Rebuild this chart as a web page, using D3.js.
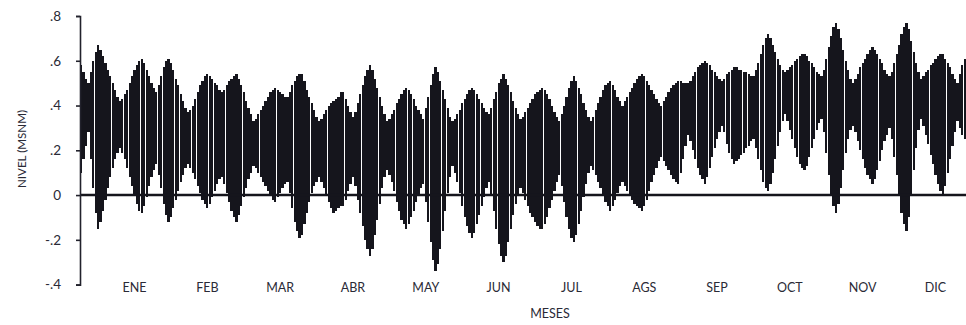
<!DOCTYPE html>
<html>
<head>
<meta charset="utf-8">
<script src="https://cdn.jsdelivr.net/npm/d3@7"></script>
<style>
  html, body { margin: 0; padding: 0; background: #fff; }
  svg { display: block; }
  text { font-family: "Lato", "Noto Sans", sans-serif; fill: #2a2a36; }
</style>
</head>
<body>
<svg id="chart" width="966" height="325"></svg>
<script>
// Month tick labels along the bottom
const months = ["ENE", "FEB", "MAR", "ABR", "MAY", "JUN", "JUL", "AGS", "SEP", "OCT", "NOV", "DIC"];

// Level axis ticks (m)
const levelTicks = [-0.4, -0.2, 0, 0.2, 0.4, 0.6, 0.8];

// Daily high water (m above mean sea level), day 0 .. 364
const dailyHigh = [
  .58,.55,.52,.50,.55,.60,.64,.67,.65,.62,.59,.56,.53,.50,.47,.44,.42,.43,.45,.47,
  .50,.53,.56,.58,.60,.61,.59,.56,.53,.50,.48,.46,.49,.53,.57,.60,.61,.59,.56,.52,
  .49,.45,.42,.39,.37,.38,.40,.43,.46,.49,.51,.53,.54,.53,.52,.50,.49,.47,.46,.47,
  .49,.51,.52,.53,.54,.52,.49,.46,.42,.39,.36,.33,.34,.36,.38,.40,.42,.44,.46,.47,
  .48,.47,.46,.45,.44,.44,.46,.49,.51,.53,.54,.54,.51,.47,.44,.41,.38,.35,.33,.34,
  .36,.38,.40,.41,.42,.43,.44,.46,.46,.43,.40,.37,.35,.37,.41,.45,.49,.53,.56,.58,
  .56,.52,.48,.44,.40,.36,.33,.34,.36,.38,.41,.43,.45,.47,.48,.47,.45,.43,.40,.38,
  .36,.34,.39,.44,.49,.54,.57,.55,.51,.47,.43,.39,.35,.33,.34,.36,.38,.41,.43,.45,
  .47,.48,.47,.45,.43,.41,.39,.37,.36,.39,.43,.46,.50,.52,.54,.52,.49,.46,.42,.39,
  .36,.34,.35,.37,.39,.41,.43,.45,.46,.47,.48,.47,.45,.43,.40,.37,.35,.33,.36,.40,
  .44,.48,.51,.53,.51,.48,.45,.41,.38,.35,.33,.35,.38,.41,.44,.47,.49,.50,.51,.49,
  .47,.44,.42,.40,.42,.44,.46,.48,.50,.52,.53,.54,.53,.51,.49,.47,.45,.43,.41,.40,
  .42,.44,.46,.48,.49,.50,.51,.51,.50,.50,.50,.51,.53,.55,.57,.58,.59,.60,.59,.58,
  .56,.55,.53,.52,.51,.52,.54,.55,.56,.57,.57,.56,.56,.55,.55,.54,.53,.53,.56,.59,
  .63,.67,.70,.72,.70,.67,.64,.61,.58,.56,.55,.56,.57,.58,.60,.61,.62,.63,.63,.62,
  .60,.59,.57,.55,.54,.53,.56,.61,.66,.71,.75,.77,.74,.70,.65,.60,.56,.52,.50,.52,
  .54,.57,.59,.61,.63,.65,.66,.65,.63,.61,.59,.56,.54,.53,.55,.59,.63,.67,.72,.75,
  .77,.74,.69,.64,.59,.55,.52,.53,.55,.56,.58,.59,.61,.62,.63,.63,.61,.59,.57,.54,
  .52,.50,.54,.58,.61
];

// Daily low water (m above mean sea level), day 0 .. 364
const dailyLow = [
  .10,.16,.22,.28,.16,.03,-.08,-.15,-.12,-.07,-.02,.03,.08,.12,.16,.19,.21,.19,.16,.12,
  .08,.04,.00,-.04,-.07,-.08,-.05,-.01,.04,.08,.11,.14,.09,.03,-.04,-.09,-.12,-.10,-.06,-.02,
  .02,.06,.09,.12,.14,.12,.10,.07,.04,.01,-.02,-.04,-.06,-.04,-.01,.02,.05,.07,.08,.05,
  .01,-.03,-.07,-.10,-.12,-.09,-.05,-.01,.03,.07,.10,.13,.12,.10,.08,.06,.04,.02,.00,-.02,
  -.03,-.01,.01,.03,.05,.06,.01,-.06,-.12,-.16,-.19,-.18,-.13,-.08,-.03,.01,.04,.06,.08,.06,
  .03,.00,-.03,-.06,-.08,-.07,-.06,-.05,-.05,-.02,.02,.05,.08,.04,-.02,-.08,-.14,-.20,-.24,-.27,
  -.24,-.18,-.11,-.04,.03,.08,.11,.09,.06,.02,-.03,-.07,-.11,-.13,-.15,-.13,-.10,-.07,-.03,.00,
  .03,.05,-.03,-.12,-.21,-.29,-.34,-.31,-.24,-.16,-.07,.01,.08,.13,.10,.06,.01,-.05,-.10,-.14,
  -.17,-.19,-.17,-.13,-.09,-.05,-.01,.03,.06,.00,-.07,-.15,-.22,-.27,-.30,-.27,-.21,-.15,-.09,-.04,
  .00,.03,.01,-.02,-.05,-.08,-.10,-.12,-.14,-.15,-.15,-.13,-.10,-.06,-.02,.02,.06,.09,.04,-.03,
  -.10,-.15,-.19,-.21,-.18,-.13,-.07,-.01,.05,.10,.13,.11,.09,.06,.03,.00,-.03,-.05,-.07,-.05,
  -.02,.01,.04,.06,.04,.02,.00,-.02,-.04,-.05,-.06,-.07,-.05,-.02,.02,.06,.09,.12,.15,.17,
  .15,.13,.11,.09,.07,.06,.05,.10,.16,.22,.27,.24,.20,.16,.12,.09,.07,.05,.08,.12,
  .17,.21,.25,.28,.31,.28,.23,.19,.16,.14,.15,.16,.18,.19,.21,.22,.24,.25,.21,.16,
  .11,.06,.03,.02,.05,.10,.16,.22,.28,.33,.36,.33,.29,.25,.21,.17,.14,.12,.11,.13,
  .17,.21,.25,.29,.32,.34,.28,.19,.09,.00,-.05,-.08,-.04,.03,.11,.19,.25,.29,.31,.28,
  .24,.20,.16,.12,.09,.07,.05,.07,.11,.15,.20,.24,.27,.30,.25,.17,.09,.00,-.08,-.13,
  -.16,-.10,.00,.11,.21,.29,.34,.31,.27,.23,.18,.14,.09,.05,.02,.00,.04,.10,.16,.22,
  .28,.33,.30,.27,.25
];

const svg = d3.select("#chart");
const margin = { left: 80, right: 0, top: 16, bottom: 40 };
const W = +svg.attr("width"), H = +svg.attr("height");

const x = d3.scaleLinear().domain([0, dailyHigh.length]).range([margin.left, W - margin.right]);
const y = d3.scaleLinear().domain([-0.4, 0.8]).range([284.6, margin.top]);

// Daily tidal range bars
const step = x(1) - x(0);
svg.append("g")
  .attr("shape-rendering", "crispEdges")
  .selectAll("rect")
  .data(dailyHigh.map((h, i) => ({ i, h, l: dailyLow[i] })))
  .join("rect")
    .attr("x", d => x(d.i))
    .attr("width", step - 0.2)
    .attr("y", d => y(d.h))
    .attr("height", d => y(d.l) - y(d.h))
    .attr("fill", "#15151c");

// Mean sea level reference line
svg.append("line")
  .attr("x1", x(0)).attr("x2", W)
  .attr("y1", y(0)).attr("y2", y(0))
  .attr("stroke", "#15151c")
  .attr("stroke-width", 2.5);

// Level axis
const fmt = v => v === 0 ? "0" : (v < 0 ? "-" : "") + Math.abs(v).toFixed(1).replace(/^0/, "");
const yAxis = svg.append("g")
  .attr("transform", `translate(${margin.left},0)`)
  .call(d3.axisLeft(y).tickValues(levelTicks).tickFormat(fmt).tickSize(4).tickSizeOuter(4).tickPadding(15));
yAxis.select(".domain").attr("stroke", "#22222c").attr("stroke-width", 1.6);
yAxis.selectAll(".tick line").attr("stroke", "#22222c").attr("stroke-width", 1.6);
yAxis.selectAll(".tick text")
  .attr("font-size", 13.5)
  .attr("fill", "#2a2a36")
  .style("font-family", "Lato, 'Noto Sans', sans-serif");

// Month labels
const mx = d3.scalePoint().domain(months).range([134, 935]);
const xAxis = svg.append("g")
  .attr("transform", `translate(0,288)`)
  .call(d3.axisBottom(mx).tickSize(0).tickPadding(0));
xAxis.select(".domain").remove();
xAxis.selectAll(".tick text")
  .attr("font-size", 12.5)
  .attr("dy", "0.35em")
  .attr("fill", "#2a2a36")
  .style("font-family", "Lato, 'Noto Sans', sans-serif");

// Axis titles
svg.append("text")
  .attr("x", 550).attr("y", 318)
  .attr("text-anchor", "middle")
  .attr("font-size", 12.5)
  .text("MESES");

svg.append("text")
  .attr("transform", "translate(26,149) rotate(-90)")
  .attr("text-anchor", "middle")
  .attr("font-size", 12)
  .attr("textLength", 78)
  .attr("lengthAdjust", "spacingAndGlyphs")
  .text("NIVEL (MSNM)");
</script>
</body>
</html>
